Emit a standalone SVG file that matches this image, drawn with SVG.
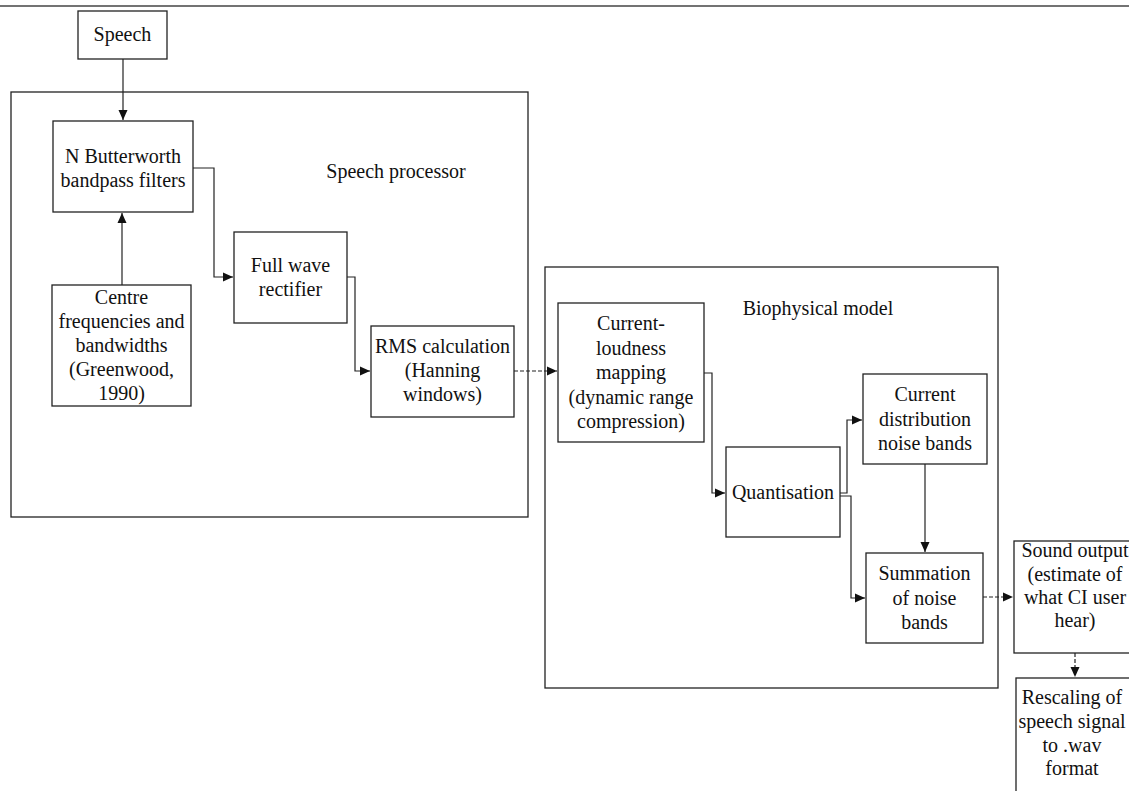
<svg xmlns="http://www.w3.org/2000/svg" width="1129" height="791" viewBox="0 0 1129 791">
<style>
  .box { fill: #fff; stroke: #222; stroke-width: 1.3; }
  .frame { fill: none; stroke: #222; stroke-width: 1.3; }
  .t { font-family: "Liberation Serif", "Times New Roman", serif; font-size: 20px; fill: #111; text-anchor: middle; }
  .tl { font-family: "Liberation Serif", "Times New Roman", serif; font-size: 20px; fill: #111; }
  .c { fill: none; stroke: #222; stroke-width: 1.2; }
  .d { fill: none; stroke: #222; stroke-width: 1.2; stroke-dasharray: 4 2; }
</style>
<defs>
  <marker id="ah" markerUnits="userSpaceOnUse" markerWidth="10" markerHeight="10" refX="10" refY="5" orient="auto">
    <path d="M0,0.5 L10,5 L0,9.5 z" fill="#111"/>
  </marker>
</defs>
<rect x="0" y="0" width="1129" height="791" fill="#fff"/>
<line x1="0" y1="6" x2="1129" y2="6" stroke="#444" stroke-width="1.5"/>

<g id="speech-processor-frame">
  <rect class="frame" x="11" y="92" width="517" height="425"/>
  <text class="t" x="396" y="178">Speech processor</text>
</g>
<g id="biophysical-model-frame">
  <rect class="frame" x="545" y="267" width="453" height="421"/>
  <text class="t" x="818" y="315">Biophysical model</text>
</g>

<g id="connectors">
  <path class="c" d="M123,59 V120" marker-end="url(#ah)"/>
  <path class="c" d="M122,285 V213" marker-end="url(#ah)"/>
  <path class="c" d="M193,168 H214 V277 H233" marker-end="url(#ah)"/>
  <path class="c" d="M347,277 H355 V371 H370" marker-end="url(#ah)"/>
  <path class="d" d="M514,371 H557" marker-end="url(#ah)"/>
  <path class="c" d="M704,373 H712 V493 H725" marker-end="url(#ah)"/>
  <path class="c" d="M840,493 H847 V420 H862" marker-end="url(#ah)"/>
  <path class="c" d="M840,496 H851 V598 H865" marker-end="url(#ah)"/>
  <path class="c" d="M925,464 V552" marker-end="url(#ah)"/>
  <path class="d" d="M983,597 H1013" marker-end="url(#ah)"/>
  <path class="d" d="M1075,653 V677" marker-end="url(#ah)"/>
</g>

<g id="speech">
  <rect class="box" x="78" y="11" width="89" height="48"/>
  <text class="t" x="122.5" y="41">Speech</text>
</g>
<g id="butterworth">
  <rect class="box" x="53" y="121" width="140" height="91"/>
  <text class="t" x="123" y="163">N Butterworth</text>
  <text class="t" x="123" y="187">bandpass filters</text>
</g>
<g id="centre-frequencies">
  <rect class="box" x="52" y="285" width="139" height="121"/>
  <text class="t" x="121.5" y="304">Centre</text>
  <text class="t" x="121.5" y="328">frequencies and</text>
  <text class="t" x="121.5" y="352">bandwidths</text>
  <text class="t" x="121.5" y="376">(Greenwood,</text>
  <text class="t" x="121.5" y="400">1990)</text>
</g>
<g id="full-wave-rectifier">
  <rect class="box" x="234" y="232" width="113" height="91"/>
  <text class="t" x="290.5" y="272">Full wave</text>
  <text class="t" x="290.5" y="296">rectifier</text>
</g>
<g id="rms-calculation">
  <rect class="box" x="371" y="326" width="143" height="91"/>
  <text class="t" x="442.5" y="353">RMS calculation</text>
  <text class="t" x="442.5" y="377">(Hanning</text>
  <text class="t" x="442.5" y="401">windows)</text>
</g>
<g id="current-loudness">
  <rect class="box" x="558" y="303" width="146" height="139"/>
  <text class="t" x="631" y="330">Current-</text>
  <text class="t" x="631" y="355">loudness</text>
  <text class="t" x="631" y="379">mapping</text>
  <text class="t" x="631" y="404">(dynamic range</text>
  <text class="t" x="631" y="428">compression)</text>
</g>
<g id="quantisation">
  <rect class="box" x="726" y="447" width="114" height="90"/>
  <text class="t" x="783" y="499">Quantisation</text>
</g>
<g id="current-distribution">
  <rect class="box" x="863" y="374" width="124" height="90"/>
  <text class="t" x="925" y="401">Current</text>
  <text class="t" x="925" y="426">distribution</text>
  <text class="t" x="925" y="450">noise bands</text>
</g>
<g id="summation">
  <rect class="box" x="866" y="553" width="117" height="90"/>
  <text class="t" x="924.5" y="580">Summation</text>
  <text class="t" x="924.5" y="605">of noise</text>
  <text class="t" x="924.5" y="629">bands</text>
</g>
<g id="sound-output">
  <rect class="box" x="1014" y="541" width="126" height="112"/>
  <text class="t" x="1075" y="557">Sound output</text>
  <text class="t" x="1075" y="581">(estimate of</text>
  <text class="t" x="1075" y="604">what CI user</text>
  <text class="t" x="1075" y="627">hear)</text>
</g>
<g id="rescaling">
  <rect class="box" x="1016" y="678" width="124" height="122"/>
  <text class="t" x="1072" y="704">Rescaling of</text>
  <text class="t" x="1072" y="728">speech signal</text>
  <text class="t" x="1072" y="752">to .wav</text>
  <text class="t" x="1072" y="775">format</text>
</g>
</svg>
